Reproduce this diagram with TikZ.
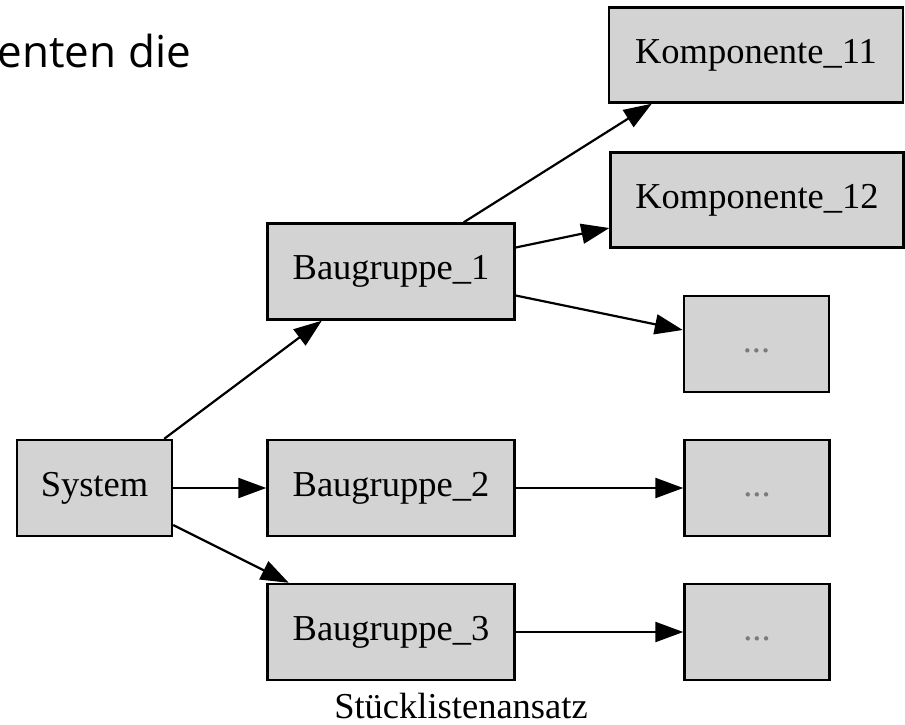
\documentclass[tikz,border=0pt]{standalone}
\usepackage{fontspec}
\setmainfont{Liberation Serif}
\newfontfamily\uifont{Open Sans}
\usetikzlibrary{arrows.meta}
\definecolor{boxgray}{HTML}{D3D3D3}
\definecolor{dotgray}{HTML}{7A7A7A}

\begin{document}
\begin{tikzpicture}[x=1pt,y=-1pt,
  box/.style={draw=black, fill=boxgray, line width=2.4pt, inner sep=0pt,
    minimum height=96pt, text height=26pt, text depth=10pt,
    font=\fontsize{36.5}{44}\selectfont},
  link/.style={draw=black, line width=2.2pt,
    -{Triangle[length=28pt,width=20pt]}},
  more/.style={box, minimum width=145pt, text=dotgray}]

\useasboundingbox (0,0) rectangle (905,724);

% cut-off line of running text
\node[anchor=base west, inner sep=0pt, font=\uifont\fontsize{44}{52}\selectfont]
  (runtext) at (-2.5,67) {enten die};

% parts tree
\node[box, minimum width=155pt] (sys) at (94.5,488) {System};
\node[box, minimum width=247pt] (b1) at (391,271.5) {Baugruppe\_1};
\node[box, minimum width=247pt] (b2) at (391,488) {Baugruppe\_2};
\node[box, minimum width=247pt] (b3) at (391,632) {Baugruppe\_3};
\node[box, minimum width=294pt, minimum height=95pt] (k11) at (756,55) {Komponente\_11};
\node[box, minimum width=293pt, minimum height=95pt] (k12) at (757,200) {Komponente\_12};
\node[more] (d1) at (756.5,344) {...};
\node[more] (d2) at (757,488) {...};
\node[more] (d3) at (757,632) {...};

\node[anchor=base, inner sep=0pt, font=\fontsize{36.5}{44}\selectfont]
  (caption) at (461,718) {Stücklistenansatz};

% connectors
\draw[link] ([xshift=-9pt]sys.north east) -- ([xshift=55.5pt]b1.south west);
\draw[link] (sys.east) -- (b2.west);
\draw[link] ([yshift=-37pt]sys.east) -- ([xshift=22.5pt]b3.north west);
\draw[link] ([xshift=-52pt]b1.north east) -- ([xshift=44pt]k11.south west);
\draw[link] ([yshift=24pt]b1.east) -- ([yshift=-28pt]k12.west);
\draw[link] ([yshift=-24pt]b1.east) -- ([yshift=14pt]d1.west);
\draw[link] (b2.east) -- (d2.west);
\draw[link] (b3.east) -- (d3.west);
\end{tikzpicture}
\end{document}
